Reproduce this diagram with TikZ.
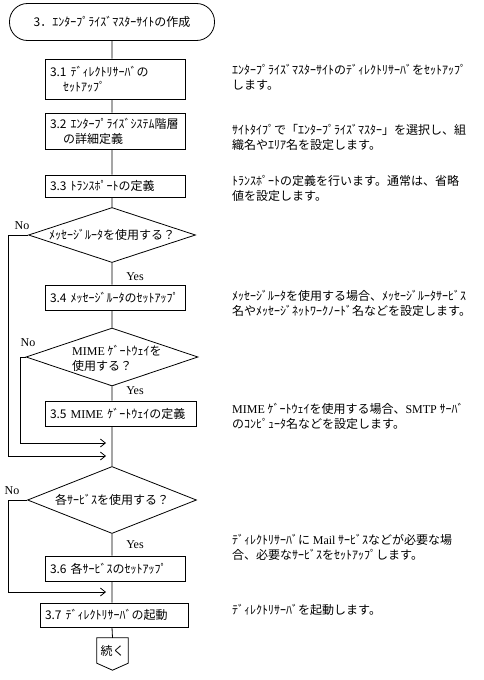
\documentclass[tikz,border=0pt]{standalone}
\usepackage{fontspec}
\setmainfont{Noto Sans CJK JP}
\newfontfamily\lat{Liberation Serif}
\usetikzlibrary{shapes.geometric,arrows.meta,calc}
\begin{document}
\begin{tikzpicture}[x=1pt,y=-1pt,
  every node/.style={font=\fontsize{12}{15}\selectfont, inner sep=0pt},
  flow/.style={line width=0.8pt},
  box/.style={draw, line width=0.8pt, minimum width=140pt, text width=130pt, align=left, inner xsep=5pt, inner ysep=0pt},
  dia/.style={draw, line width=0.8pt, diamond, inner sep=0pt},
  lab/.style={font=\fontsize{12}{15}\selectfont\lat},
  desc/.style={anchor=north west, align=left},
  arr/.style={line width=0.8pt, -{Straight Barb[length=5pt,width=8pt]}},
]
\useasboundingbox (0,0) rectangle (484,680);

\coordinate (m) at (112,0);

% terminator
\node[draw, line width=0.8pt, rounded corners=18pt, minimum width=205pt, minimum height=37pt] (term) at (112,22) {3．ｴﾝﾀｰﾌﾟﾗｲｽﾞﾏｽﾀｰｻｲﾄの作成};

% boxes
\node[box, minimum height=40pt] (b1) at (115,79) {3.1 ﾃﾞｨﾚｸﾄﾘｻｰﾊﾞの\\\hspace*{13pt}ｾｯﾄｱｯﾌﾟ};
\node[box, minimum height=36pt] (b2) at (115,131) {3.2 ｴﾝﾀｰﾌﾟﾗｲｽﾞｼｽﾃﾑ階層\\\hspace*{13pt}の詳細定義};
\node[box, minimum height=22pt] (b3) at (115,186) {3.3 ﾄﾗﾝｽﾎﾟｰﾄの定義};
\node[dia, minimum width=167pt, minimum height=55pt] (d1) at (112,235) {};
\node at (d1) {ﾒｯｾｰｼﾞﾙｰﾀを使用する？};
\node[box, minimum height=25pt] (b4) at (115,297.5) {3.4 ﾒｯｾｰｼﾞﾙｰﾀのｾｯﾄｱｯﾌﾟ};
\node[dia, minimum width=172pt, minimum height=58pt] (d2) at (112,357) {};
\node[anchor=west, align=left] at (72,358) {{\lat MIME} ｹﾞｰﾄｳｪｲを\\使用する？};
\node[box, minimum width=151pt, text width=141pt, minimum height=25pt] (b5) at (120.5,413.5) {3.5 {\lat MIME} ｹﾞｰﾄｳｪｲの定義};
\node[dia, minimum width=169pt, minimum height=67pt] (d3) at (112,500) {};
\node at (d3) {各ｻｰﾋﾞｽを使用する？};
\node[box, minimum height=25pt] (b6) at (115,568.5) {3.6 各ｻｰﾋﾞｽのｾｯﾄｱｯﾌﾟ};
\node[box, minimum width=148pt, text width=138pt, minimum height=24pt] (b7) at (114,615) {3.7 ﾃﾞｨﾚｸﾄﾘｻｰﾊﾞの起動};

% continuation
\node[minimum width=31pt, minimum height=25pt] (cont) at (112.5,650.5) {続く};
\draw[flow] (cont.north west) -- (cont.south west) -- ($(cont.south)+(0,7)$) -- (cont.south east) -- (cont.north east) -- cycle;

% main flow
\draw[flow] (m |- term.south) -- (m |- b1.north)
            (m |- b1.south) -- (m |- b2.north)
            (m |- b2.south) -- (m |- b3.north)
            (m |- b3.south) -- (d1.north)
            (d1.south) -- (m |- b4.north)
            (m |- b4.south) -- (d2.north)
            (d2.south) -- (m |- b5.north)
            (m |- b5.south) -- (d3.north)
            (d3.south) -- (m |- b6.north)
            (m |- b6.south) -- (m |- b7.north)
            (m |- b7.south) -- (cont.north);

% No branches
\coordinate (j1) at (106,456);
\coordinate (j2) at (106,443);
\coordinate (j3) at (106,592);
\coordinate (l1) at (8,235);
\coordinate (l2) at (20,357);
\coordinate (l3) at (8,500);
\draw[arr] (d1.west) -- (l1) |- (j1);
\draw[arr] (d2.west) -- (l2) |- (j2);
\draw[arr] (d3.west) -- (l3) |- (j3);

% labels
\node[lab] (no1) at (22,226) {No};
\node[lab] (no2) at (28,343) {No};
\node[lab] (no3) at (12,491) {No};
\node[lab] (yes1) at (135,277) {Yes};
\node[lab] (yes2) at (135,391) {Yes};
\node[lab] (yes3) at (135,545) {Yes};

% descriptions
\node[desc] (t1) at (232,64) {ｴﾝﾀｰﾌﾟﾗｲｽﾞﾏｽﾀｰｻｲﾄのﾃﾞｨﾚｸﾄﾘｻｰﾊﾞをｾｯﾄｱｯﾌﾟ\\します。};
\node[desc] (t2) at (232,124) {ｻｲﾄﾀｲﾌﾟで「ｴﾝﾀｰﾌﾟﾗｲｽﾞﾏｽﾀｰ」を選択し、組\\織名やｴﾘｱ名を設定します。};
\node[desc] (t3) at (232,175) {ﾄﾗﾝｽﾎﾟｰﾄの定義を行います。通常は、省略\\値を設定します。};
\node[desc] (t4) at (232,290) {ﾒｯｾｰｼﾞﾙｰﾀを使用する場合、ﾒｯｾｰｼﾞﾙｰﾀｻｰﾋﾞｽ\\名やﾒｯｾｰｼﾞﾈｯﾄﾜｰｸﾉｰﾄﾞ名などを設定します。};
\node[desc] (t5) at (232,403) {{\lat MIME} ｹﾞｰﾄｳｪｲを使用する場合、{\lat SMTP} ｻｰﾊﾞ\\のｺﾝﾋﾟｭｰﾀ名などを設定します。};
\node[desc] (t6) at (232,534) {ﾃﾞｨﾚｸﾄﾘｻｰﾊﾞに {\lat Mail} ｻｰﾋﾞｽなどが必要な場\\合、必要なｻｰﾋﾞｽをｾｯﾄｱｯﾌﾟします。};
\node[desc] (t7) at (232,604) {ﾃﾞｨﾚｸﾄﾘｻｰﾊﾞを起動します。};
\end{tikzpicture}
\end{document}
